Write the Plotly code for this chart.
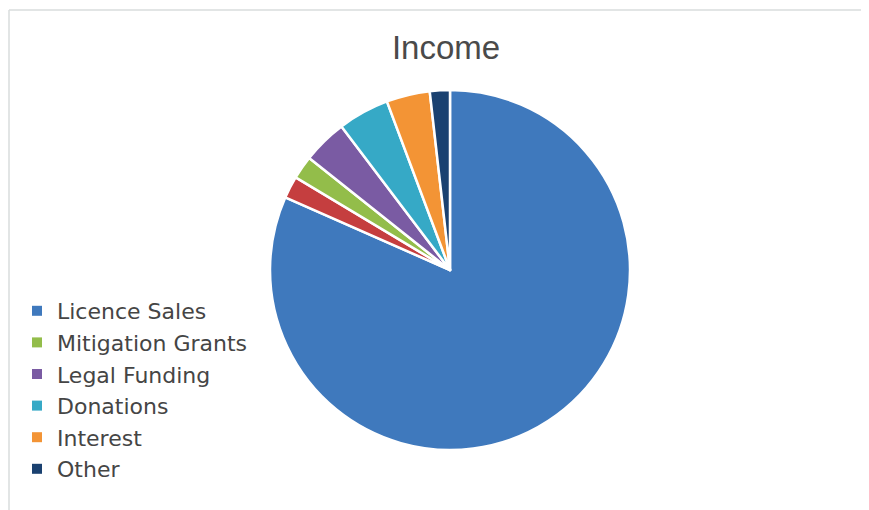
import plotly.graph_objects as go

# Data (percent of income)
labels = ["Licence Sales", "Unlisted", "Mitigation Grants", "Legal Funding",
          "Donations", "Interest", "Other"]
values = [81.6, 2.0, 2.1, 4.0, 4.6, 3.9, 1.8]
colors = ["#3f79bd", "#c53e3f", "#93bd4a", "#7a5ba3", "#36a9c6", "#f39435", "#1a4170"]

legend_labels = ["Licence Sales", "Mitigation Grants", "Legal Funding",
                 "Donations", "Interest", "Other"]
legend_colors = ["#3f79bd", "#93bd4a", "#7a5ba3", "#36a9c6", "#f39435", "#1a4170"]

# page body has an 8px margin; figure coordinates = screen coordinates - 8
OFF = 8
W, H = 861, 502
cx, cy, r = 450 - OFF, 270 - OFF, 180

fig = go.Figure()
fig.add_trace(go.Pie(
    labels=labels, values=values, sort=False, direction="clockwise", rotation=0,
    marker=dict(colors=colors, line=dict(color="white", width=2.5)),
    textinfo="none", hoverinfo="label+percent", showlegend=False,
    domain=dict(x=[(cx - r) / W, (cx + r) / W], y=[1 - (cy + r) / H, 1 - (cy - r) / H]),
))

for i, (lab, col) in enumerate(zip(legend_labels, legend_colors)):
    fig.add_trace(go.Scatter(
        x=[None], y=[None], mode="markers", name=lab,
        marker=dict(symbol="square", size=10, color=col),
    ))

fig.update_layout(
    width=W, height=H,
    margin=dict(l=0, r=0, t=0, b=0),
    paper_bgcolor="white", plot_bgcolor="white",
    xaxis=dict(visible=False), yaxis=dict(visible=False),
    title=dict(text="Income", x=(446 - OFF) / W, xanchor="center", y=1 - (47 - OFF) / H,
               yanchor="middle",
               font=dict(family="Liberation Sans", size=33, color="#4a4a4a")),
    legend=dict(x=(17 - OFF) / W, xanchor="left", y=1 - (290 - OFF) / H, yanchor="top",
                font=dict(family="DejaVu Sans", size=22, color="#454545"),
                bgcolor="rgba(0,0,0,0)"),
    shapes=[
        dict(type="line", xref="paper", yref="paper", x0=(9 - OFF) / W, x1=1,
             y0=1 - (10 - OFF) / H, y1=1 - (10 - OFF) / H,
             line=dict(color="#d9dcdc", width=1.5)),
        dict(type="line", xref="paper", yref="paper", x0=(9 - OFF) / W, x1=(9 - OFF) / W,
             y0=0, y1=1 - (10 - OFF) / H,
             line=dict(color="#d9dcdc", width=1.5)),
    ],
)

fig.write_html("out.html")
